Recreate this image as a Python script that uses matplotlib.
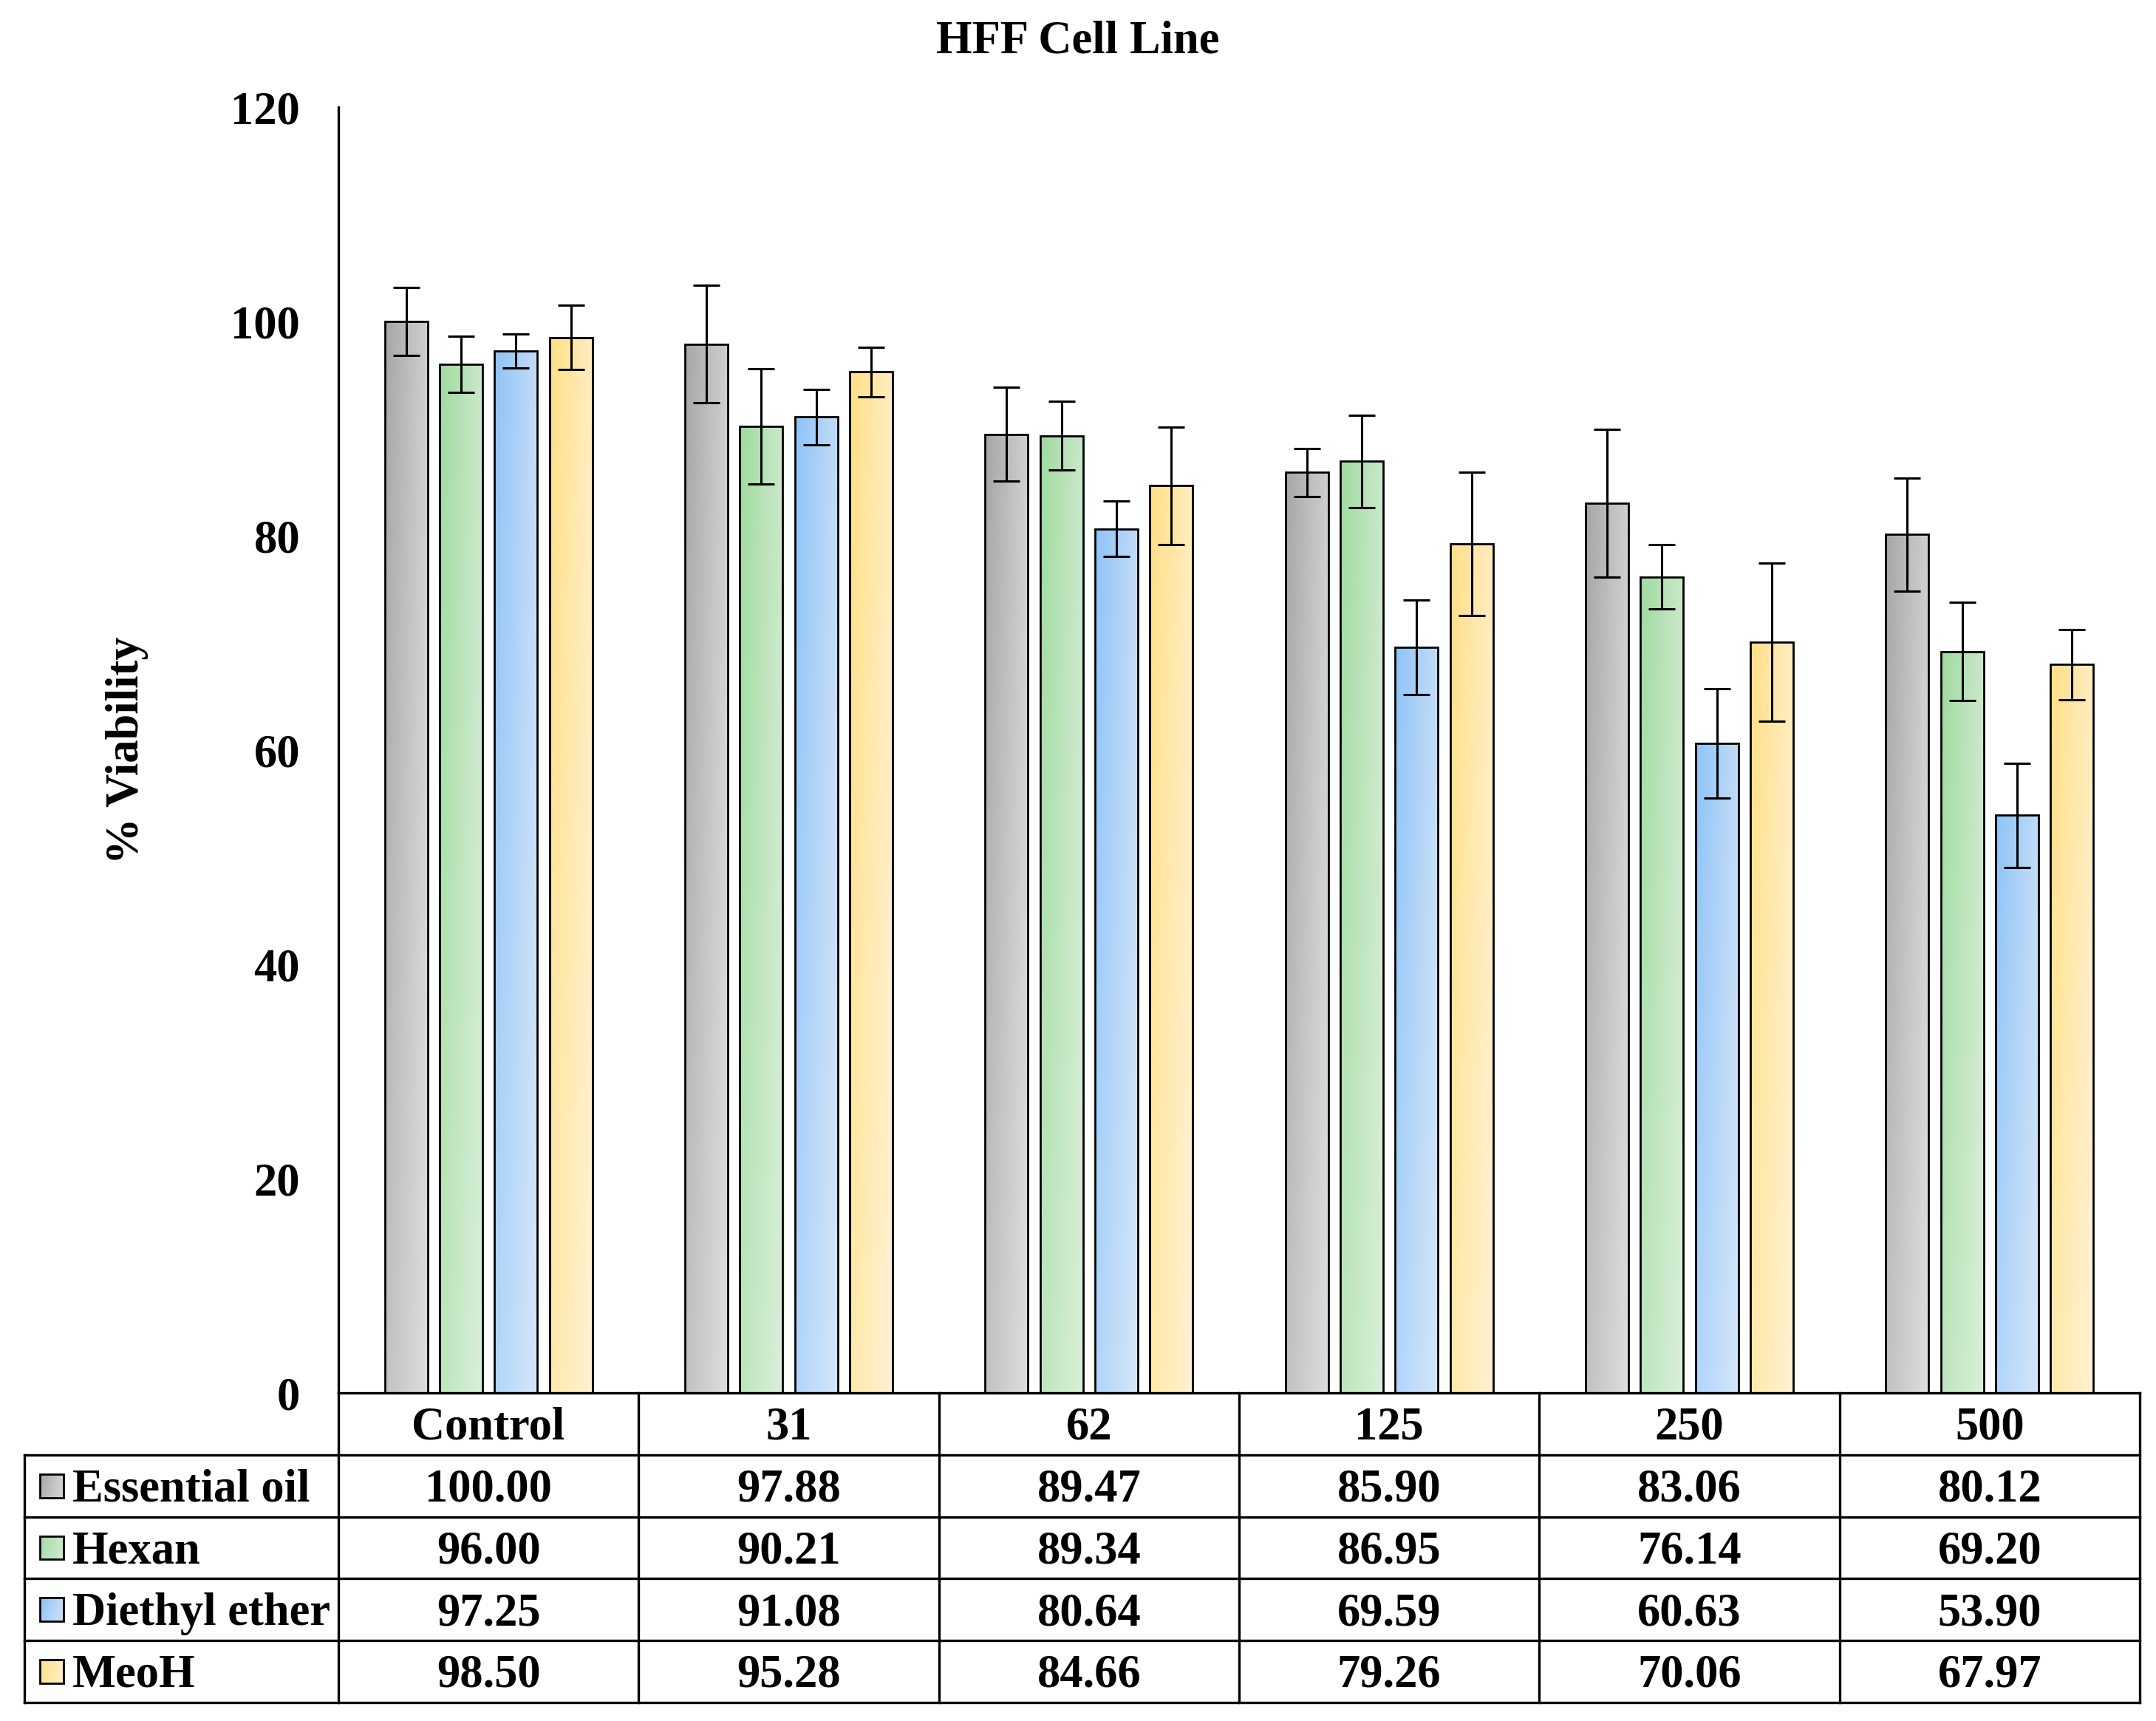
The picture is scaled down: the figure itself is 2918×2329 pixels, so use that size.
import numpy as np
import matplotlib.pyplot as plt
from matplotlib.colors import to_rgb
from matplotlib.patches import Rectangle

plt.rcParams['font.family'] = ['Liberation Serif', 'DejaVu Serif']
plt.rcParams['font.weight'] = 'bold'
plt.rcParams['axes.labelweight'] = 'bold'
plt.rcParams['font.size'] = 22.5

# Data
categories = ['Control', '31', '62', '125', '250', '500']
series = ['Essential oil', 'Hexan', 'Diethyl ether', 'MeoH']
essential_oil = [100.00, 97.88, 89.47, 85.90, 83.06, 80.12]
hexan = [96.00, 90.21, 89.34, 86.95, 76.14, 69.20]
diethyl_ether = [97.25, 91.08, 80.64, 69.59, 60.63, 53.90]
meoh = [98.50, 95.28, 84.66, 79.26, 70.06, 67.97]
essential_oil_err = [3.2, 5.5, 4.4, 2.25, 6.9, 5.26]
hexan_err = [2.65, 5.4, 3.2, 4.3, 3.0, 4.6]
diethyl_ether_err = [1.57, 2.6, 2.6, 4.4, 5.1, 4.85]
meoh_err = [3.0, 2.3, 5.5, 6.7, 7.4, 3.26]

values = [essential_oil, hexan, diethyl_ether, meoh]
errors = [essential_oil_err, hexan_err, diethyl_ether_err, meoh_err]
# gradient colours: dark left -> light right
grad_colors = [('#a6a6a6', '#d0d0d0'),
               ('#9fdb9f', '#cbe8cb'),
               ('#8ec3f7', '#c3dcf7'),
               ('#ffdf85', '#ffedc2')]


def grad_img(left, right, nx=64, ny=64, fade=0.3):
    l = np.array(to_rgb(left))
    r = np.array(to_rgb(right))
    u = np.linspace(0, 1, nx)[:, None]
    row = l[None, :] * (1 - u) + r[None, :] * u
    v = np.linspace(0, 1, ny)[:, None, None]
    return row[None, :, :] * (1 - fade * v) + fade * v


W, H = 2918, 2329
fig = plt.figure(figsize=(W / 200, H / 200), dpi=200, facecolor='white')

ax_left, ax_right = 458 / W, 2896 / W
ax_bottom, ax_top = 1 - 1885 / H, 1 - 145 / H
ax = fig.add_axes([ax_left, ax_bottom, ax_right - ax_left, ax_top - ax_bottom])

x = np.arange(len(categories))
bar_w = 0.143
step = 0.183

for i, (vals, errs) in enumerate(zip(values, errors)):
    xs = x + (i - 1.5) * step
    bars = ax.bar(xs, vals, bar_w, facecolor='none', edgecolor='black',
                  linewidth=1.0, zorder=4)
    img = grad_img(*grad_colors[i])
    for rect in bars:
        x0, w, h = rect.get_x(), rect.get_width(), rect.get_height()
        ax.imshow(img, extent=(x0, x0 + w, 0, h), origin='upper',
                  aspect='auto', zorder=3, interpolation='bilinear')
    ax.errorbar(xs, vals, yerr=errs, fmt='none', ecolor='black',
                elinewidth=1.1, capsize=6.5, capthick=1.1, zorder=5)

ax.set_xlim(-0.5, len(categories) - 0.5)
ax.set_ylim(0, 120)
ax.set_yticks(range(0, 121, 20))
ax.set_xticks([])
ax.tick_params(axis='y', length=0, pad=18.7)
for s in ['top', 'right', 'bottom']:
    ax.spines[s].set_visible(False)
ax.spines['left'].set_linewidth(1.2)
ax.set_ylabel('% Viability', labelpad=40, fontweight='bold')

fig.suptitle('HFF Cell Line', x=0.5, y=1 - 56 / H, va='center',
             fontsize=22.5, fontweight='bold')

# Data table below the plot
cat_px = (2896 - 458) / len(categories)
leg_w = (458 - 33) / cat_px
tab = fig.add_axes([33 / W, 1 - 2304 / H, (2896 - 33) / W, (2304 - 1885) / H])
x_min = -0.5 - leg_w
x_max = len(categories) - 0.5
n_rows = len(series) + 1
tab.set_xlim(x_min, x_max)
tab.set_ylim(n_rows, 0)
tab.axis('off')

lw = 1.2
tab.plot([-0.5, x_max], [0, 0], color='black', lw=lw, clip_on=False)
for r in range(1, n_rows + 1):
    tab.plot([x_min, x_max], [r, r], color='black', lw=lw, clip_on=False)
tab.plot([x_min, x_min], [1, n_rows], color='black', lw=lw, clip_on=False)
for c in range(len(categories) + 1):
    tab.plot([c - 0.5, c - 0.5], [0, n_rows], color='black', lw=lw, clip_on=False)

dy = 0.07  # small downward nudge of cell text
for c, cat in enumerate(categories):
    tab.text(c, 0.5 + dy, cat, ha='center', va='center')

mk_w = 32 / cat_px
mk_h = 0.38
xm = x_min + (54 - 33) / cat_px
for r, (name, vals) in enumerate(zip(series, values)):
    yc = r + 1.5
    tab.imshow(grad_img(*grad_colors[r], fade=0.15),
               extent=(xm, xm + mk_w, yc + mk_h / 2, yc - mk_h / 2),
               origin='upper', aspect='auto', zorder=2)
    tab.add_patch(Rectangle((xm, yc - mk_h / 2), mk_w, mk_h, facecolor='none',
                            edgecolor='black', lw=1.0, zorder=3))
    tab.text(xm + mk_w + 0.03, yc + dy, name, ha='left', va='center')
    for c, v in enumerate(vals):
        tab.text(c, yc + dy, f'{v:.2f}', ha='center', va='center')

tab.set_xlim(x_min, x_max)
tab.set_ylim(n_rows, 0)

fig.savefig('out.png', dpi=200, facecolor='white')
